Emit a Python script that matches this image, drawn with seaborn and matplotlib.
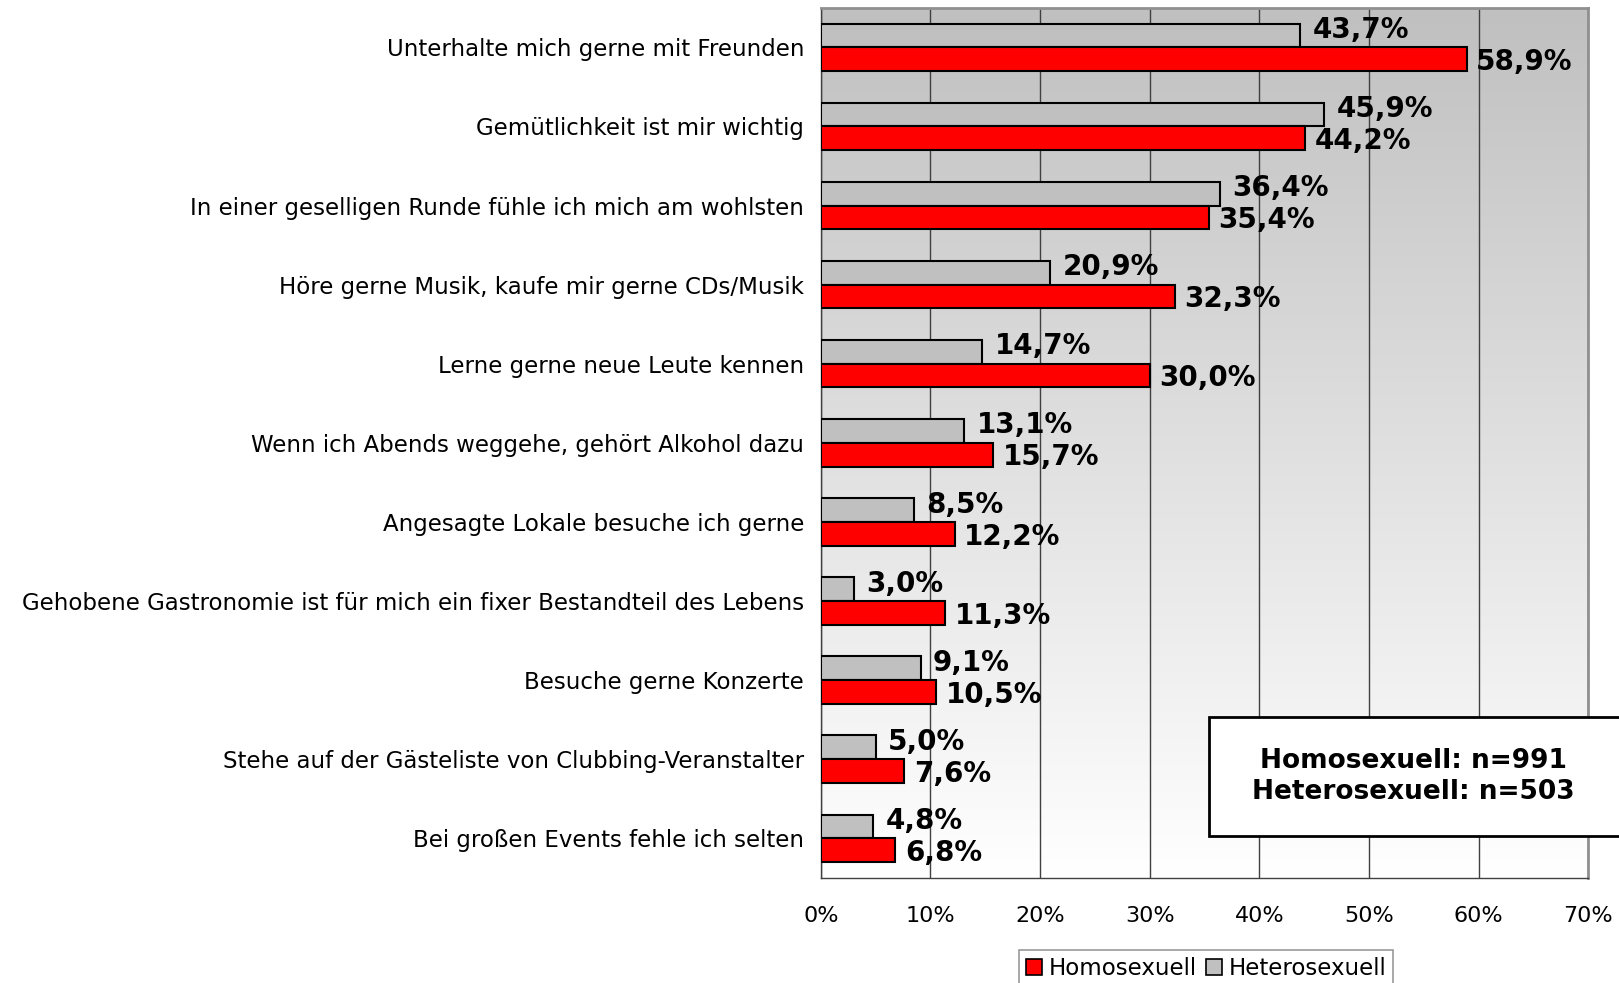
import numpy as np
import pandas as pd
import seaborn as sns
import matplotlib.pyplot as plt
from matplotlib.colors import LinearSegmentedColormap
from matplotlib.patches import Patch, Rectangle

categories = [
    "Unterhalte mich gerne mit Freunden",
    "Gemütlichkeit ist mir wichtig",
    "In einer geselligen Runde fühle ich mich am wohlsten",
    "Höre gerne Musik, kaufe mir gerne CDs/Musik",
    "Lerne gerne neue Leute kennen",
    "Wenn ich Abends weggehe, gehört Alkohol dazu",
    "Angesagte Lokale besuche ich gerne",
    "Gehobene Gastronomie ist für mich ein fixer Bestandteil des Lebens",
    "Besuche gerne Konzerte",
    "Stehe auf der Gästeliste von Clubbing-Veranstalter",
    "Bei großen Events fehle ich selten",
]
homo = [58.9, 44.2, 35.4, 32.3, 30.0, 15.7, 12.2, 11.3, 10.5, 7.6, 6.8]
hetero = [43.7, 45.9, 36.4, 20.9, 14.7, 13.1, 8.5, 3.0, 9.1, 5.0, 4.8]
groups = ["Heterosexuell", "Homosexuell"]
colors = {"Homosexuell": "#ff0000", "Heterosexuell": "#c0c0c0"}

df = pd.DataFrame({
    "Kategorie": categories * 2,
    "Gruppe": ["Homosexuell"] * len(categories) + ["Heterosexuell"] * len(categories),
    "Wert": homo + hetero,
})

sns.set_style("white")
plt.rcParams["font.family"] = ["DejaVu Sans"]
plt.rcParams["text.color"] = "black"
plt.rcParams["xtick.color"] = "black"
plt.rcParams["ytick.color"] = "black"

fig = plt.figure(figsize=(16.19, 9.83), dpi=100)
ax = fig.add_axes([0.507, 0.107, 0.474, 0.885])

sns.barplot(data=df, y="Kategorie", x="Wert", hue="Gruppe", order=categories,
            hue_order=groups, palette=colors, saturation=1, width=0.6, orient="h",
            edgecolor="black", linewidth=1.5, legend=False, ax=ax, zorder=3)

# gradient background: gray at top, white at bottom
grad = np.linspace(0, 1, 256).reshape(-1, 1)
ax.imshow(grad, cmap=LinearSegmentedColormap.from_list("bg", ["#c0c0c0", "#ffffff"]),
          aspect="auto", extent=[0, 70, len(categories) - 0.5, -0.5], zorder=0)

ax.set_xlim(0, 70)
ax.set_ylim(len(categories) - 0.5, -0.5)
ax.set_xticks(range(0, 71, 10))
ax.set_xticklabels([f"{t}%" for t in range(0, 71, 10)], fontsize=16)
ax.tick_params(axis="y", labelsize=16.5, length=0, pad=12, labelcolor="black")
ax.set_yticks(np.arange(-0.5, len(categories), 1), minor=True)
ax.tick_params(axis="y", which="minor", length=6, width=1, color="#404040")
ax.tick_params(axis="x", length=6, width=1, color="#404040", pad=14, labelcolor="black")
ax.set_xlabel("")
ax.set_ylabel("")
ax.xaxis.grid(True, color="#404040", linewidth=1, zorder=1)
ax.set_axisbelow(True)
for s in ["top", "right"]:
    ax.spines[s].set_color("#909090")
    ax.spines[s].set_linewidth(2)
for s in ["left", "bottom"]:
    ax.spines[s].set_color("#404040")
    ax.spines[s].set_linewidth(1)

# value labels
for i, (h, he) in enumerate(zip(homo, hetero)):
    ax.annotate(f"{he:.1f}%".replace(".", ","), (he, i - 0.15), xytext=(9, 4),
                textcoords="offset points", va="center", ha="left", color="black",
                fontsize=20, fontweight="bold", zorder=5)
    ax.annotate(f"{h:.1f}%".replace(".", ","), (h, i + 0.15), xytext=(7, -2),
                textcoords="offset points", va="center", ha="left", color="black",
                fontsize=20, fontweight="bold", zorder=5)

# legend at the bottom
handles = [Patch(facecolor=colors[g], edgecolor="black", linewidth=1.2) for g in ["Homosexuell", "Heterosexuell"]]
leg = fig.legend(handles, ["Homosexuell", "Heterosexuell"], loc="upper center",
                 bbox_to_anchor=(0.745, 0.045), ncol=2, fontsize=16.5, frameon=True,
                 fancybox=False, edgecolor="#808080", handlelength=0.7, handleheight=0.7,
                 handletextpad=0.3, columnspacing=0.4, borderpad=0.3)
leg.get_frame().set_linewidth(1.2)

# sample size box
fig.patches.append(Rectangle((0.747, 0.1495), 0.3, 0.121, transform=fig.transFigure,
                             facecolor="white", edgecolor="black", linewidth=2, zorder=10))
fig.text(0.873, 0.2105, "Homosexuell: n=991\nHeterosexuell: n=503", ha="center", va="center",
         fontsize=19, fontweight="bold", linespacing=1.25, color="black", zorder=11)

fig.savefig("out.png", dpi=100)
